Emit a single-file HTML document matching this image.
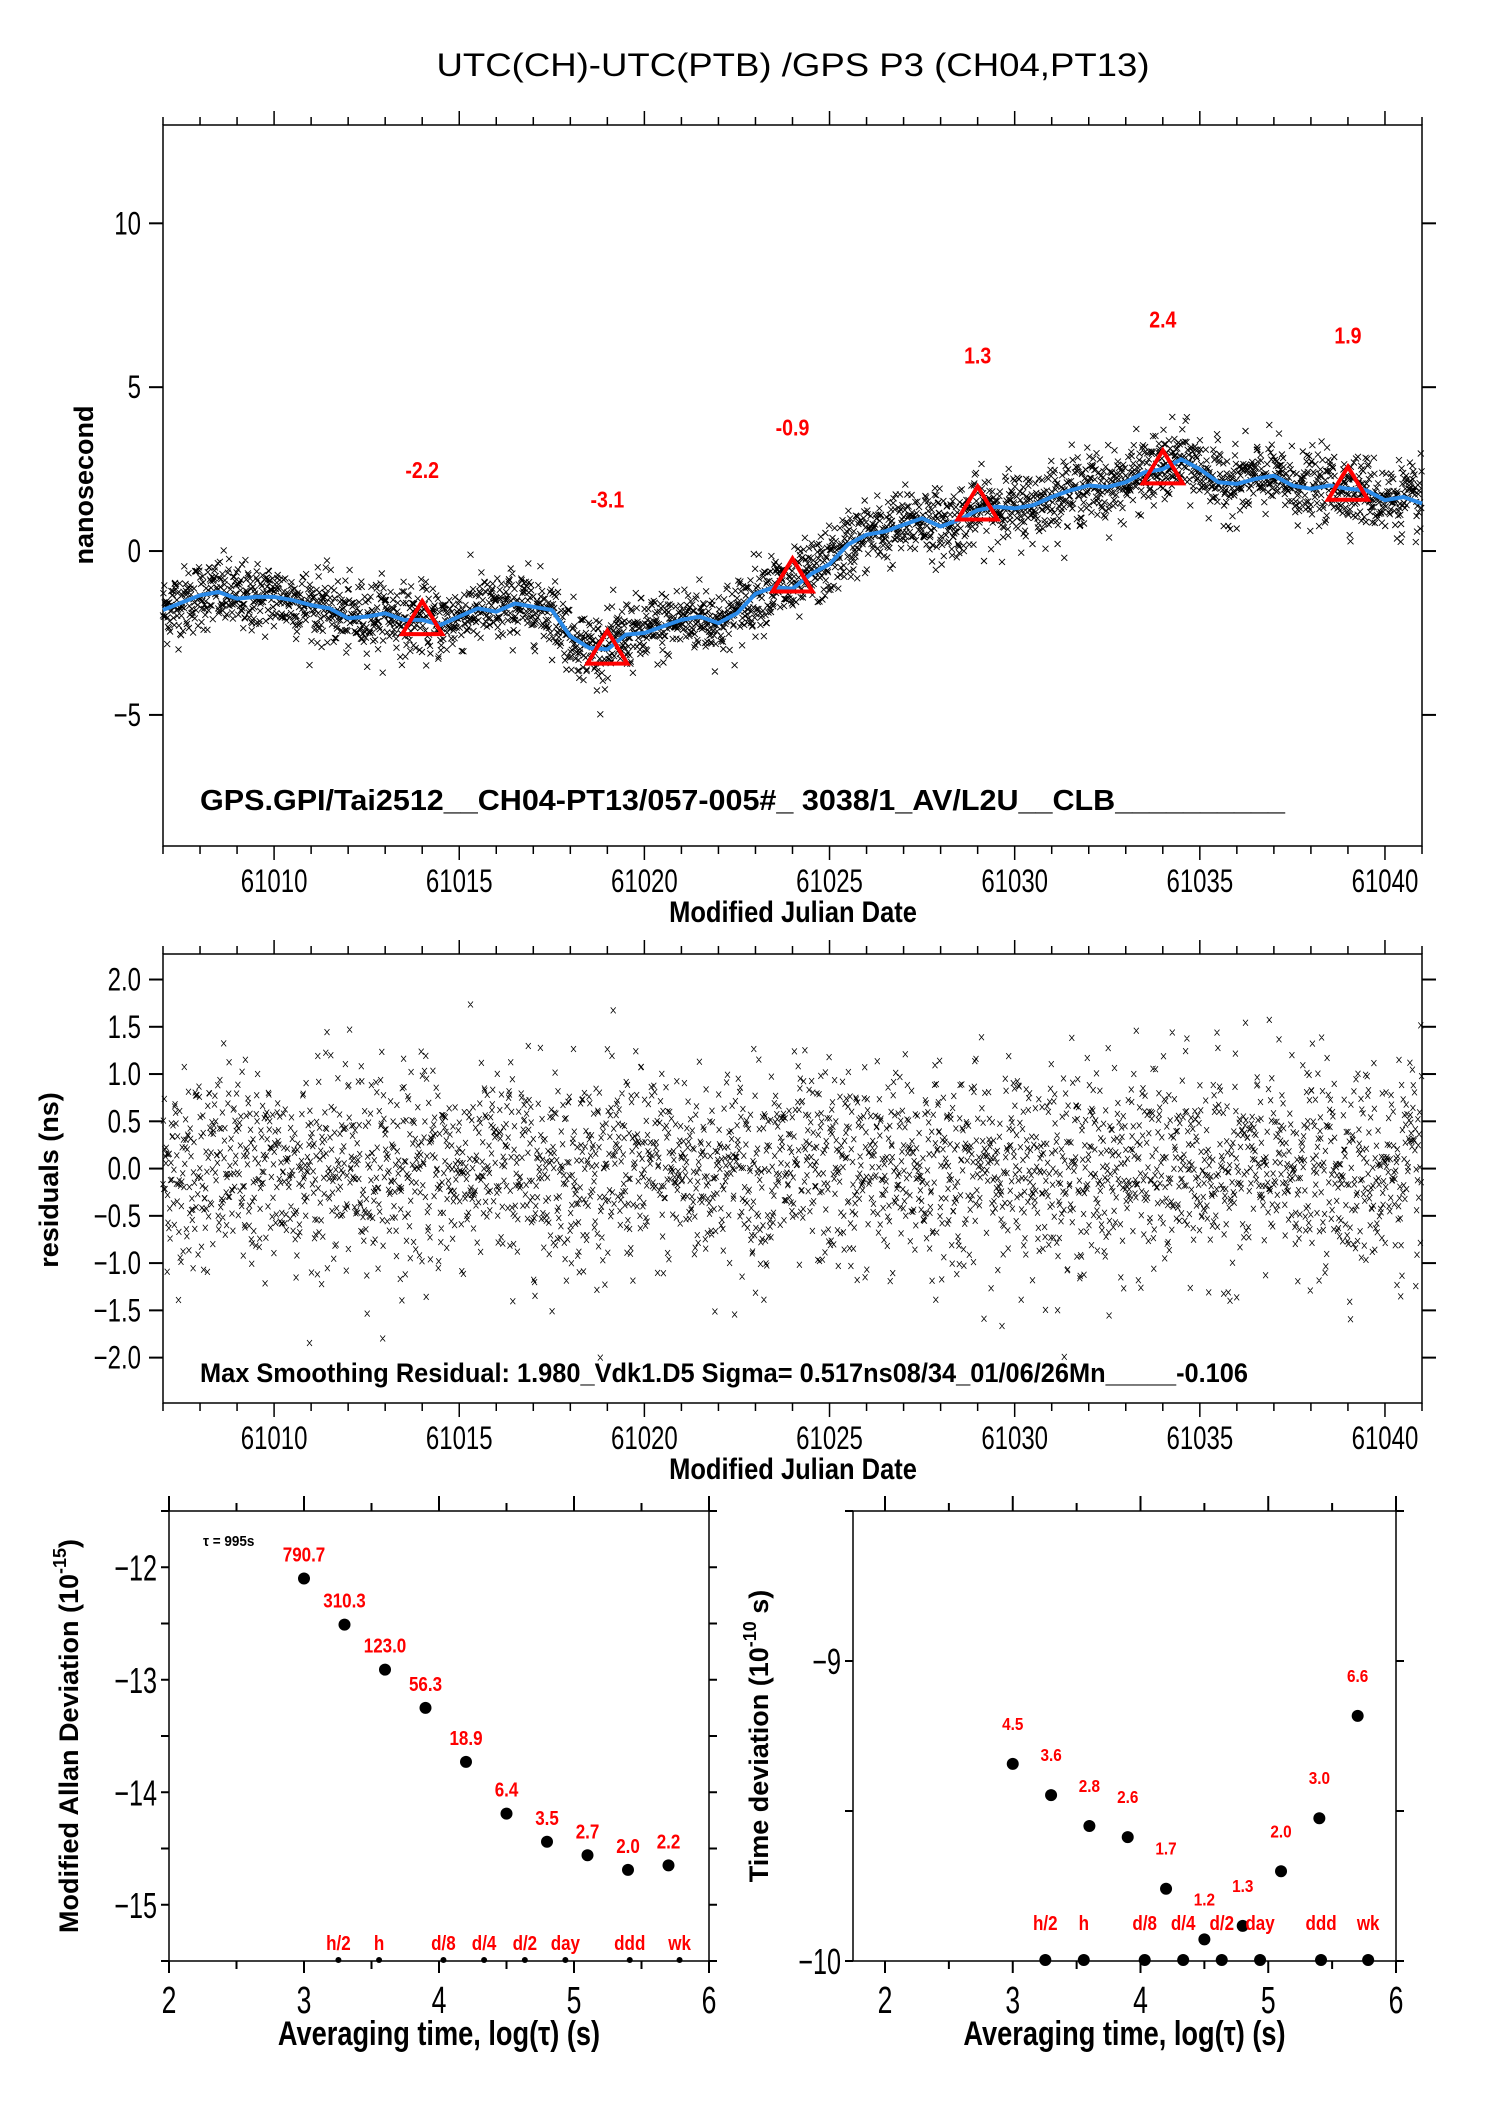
<!DOCTYPE html>
<html><head><meta charset="utf-8"><style>
html,body{margin:0;padding:0;background:#fff}
svg{display:block;font-family:"Liberation Sans",sans-serif}
</style></head><body>
<svg id="c" width="1488" height="2105" viewBox="0 0 1488 2105" xmlns="http://www.w3.org/2000/svg">
<rect width="1488" height="2105" fill="#fff"/>
</svg>
<script>
// ---- data ----
const smoothDays = [61007,61008,61008.5,61009,61009.5,61010,61010.5,61011,61011.5,61012,61012.5,61013,61013.5,61014,61014.5,61015,61015.5,61016,61016.5,61017,61017.5,61018,61018.5,61019,61019.5,61020,61020.5,61021,61021.5,61022,61022.5,61023,61023.5,61024,61024.5,61025,61025.5,61026,61026.5,61027,61027.5,61028,61028.5,61029,61029.5,61030,61030.5,61031,61031.5,61032,61032.5,61033,61033.5,61034,61034.5,61035,61035.5,61036,61036.5,61037,61037.5,61038,61038.5,61039,61039.5,61040,61040.5,61041];
const smoothVals = [-1.8,-1.35,-1.25,-1.45,-1.4,-1.4,-1.5,-1.65,-1.75,-2.05,-2.0,-1.9,-2.1,-2.1,-2.25,-2.0,-1.75,-1.85,-1.6,-1.7,-1.8,-2.6,-2.95,-3.0,-2.55,-2.5,-2.3,-2.1,-2.0,-2.2,-1.9,-1.3,-1.1,-1.15,-0.7,-0.4,0.2,0.5,0.6,0.8,1.0,0.75,0.95,1.25,1.35,1.3,1.4,1.65,1.85,2.0,1.95,2.1,2.4,2.5,2.8,2.5,2.1,2.05,2.2,2.3,2.0,1.9,2.0,1.9,1.85,1.55,1.65,1.45];
const triDays = [61014,61019,61024,61029,61034,61039];
const triVals = [-2.2,-3.1,-0.9,1.3,2.4,1.9];
const triLabels = ["-2.2","-3.1","-0.9","1.3","2.4","1.9"];
const mjdTicks = [61010,61015,61020,61025,61030,61035,61040];
const nsTicks = [10,5,0,-5];
const resTicks = [2.0,1.5,1.0,0.5,0.0,-0.5,-1.0,-1.5,-2.0];
const adevLogTau = [3,3.3,3.6,3.9,4.2,4.5,4.8,5.1,5.4,5.7];
const adevVals = [-12.10,-12.51,-12.91,-13.25,-13.73,-14.19,-14.44,-14.56,-14.69,-14.65];
const adevLabels = ["790.7","310.3","123.0","56.3","18.9","6.4","3.5","2.7","2.0","2.2"];
const tdevVals = [-9.343,-9.447,-9.550,-9.587,-9.759,-9.928,-9.883,-9.701,-9.524,-9.183];
const tdevLabels = ["4.5","3.6","2.8","2.6","1.7","1.2","1.3","2.0","3.0","6.6"];
const markLogTau = [3.255,3.556,4.033,4.334,4.636,4.936,5.413,5.782];
const markNames = ["h/2","h","d/8","d/4","d/2","day","ddd","wk"];
const adevTicks = [-12,-13,-14,-15];
const tdevTicks = [-9,-10];
const logTicks = [2,3,4,5,6];

// ---- helpers ----
const svg = document.getElementById('c');
const NS = 'http://www.w3.org/2000/svg';
function mk(tag, attrs, parent){
  const e = document.createElementNS(NS, tag);
  for (const k in attrs) e.setAttribute(k, attrs[k]);
  (parent||svg).appendChild(e); return e;
}
function txt(x,y,s,size,opt){
  opt = opt||{};
  const a = {x:0,y:0,'font-size':size,'text-anchor':opt.anchor||'middle',fill:opt.fill||'#000'};
  if (opt.bold) a['font-weight']='bold';
  if (opt.len){a.textLength=opt.len;a.lengthAdjust='spacingAndGlyphs';}
  const sx = opt.sx||0.8;
  let tr = 'translate('+x+','+y+')';
  if (opt.rot) tr += ' rotate('+opt.rot+')';
  tr += ' scale('+sx+',1)';
  a.transform = tr;
  const t = mk('text', a, opt.parent); t.textContent = s; return t;
}
function line(x1,y1,x2,y2,w,parent){ return mk('line',{x1,y1,x2,y2,stroke:'#000','stroke-width':w||1.5},parent); }

// deterministic noise texture for the dense scatter cloud
let seed = 12345;
function rnd(){ seed = (seed*1103515245+12345)%2147483648; return seed/2147483648; }
function gauss(){ const u=Math.max(rnd(),1e-9), v=rnd(); return Math.sqrt(-2*Math.log(u))*Math.cos(2*Math.PI*v); }
function smoothAt(d){
  for (let i=0;i<smoothDays.length-1;i++){
    if (d<=smoothDays[i+1]){ const t=(d-smoothDays[i])/(smoothDays[i+1]-smoothDays[i]); return smoothVals[i]+t*(smoothVals[i+1]-smoothVals[i]); }
  }
  return smoothVals[smoothVals.length-1];
}
const ptsDay=[], ptsRes=[];
for (let d=61007.0; d<=61041; d+=0.0113){ ptsDay.push(d); ptsRes.push(Math.max(-2,Math.min(1.8,gauss()*0.53))); }

// ---- axes geometry ----
const X0=163, X1=1422, D0=61007, D1=61041;
const xd = d => X0+(d-D0)/(D1-D0)*(X1-X0);
const T0=125, T1=846, yn = v => T0+(13-v)/(22)*(T1-T0);
const M0=954, M1=1403, yr = v => M0+(2.27-v)/(4.75)*(M1-M0);

// ---- title ----
const title = txt(793,76,'UTC(CH)-UTC(PTB)  /GPS  P3  (CH04,PT13)',32,{sx:1,len:713});



function timeFrame(top,bot,name){
  const g = mk('g',{});
  
  
  mk('rect',{x:X0,y:top,width:X1-X0,height:bot-top,fill:'none',stroke:'#000','stroke-width':1.5},g);
  for (let d=61007; d<=61041; d++){
    const L = (d%5===0)?14:8;
    line(xd(d),top,xd(d),top-L,1.5,g);
    line(xd(d),bot,xd(d),bot+L,1.5,g);
  }
  mjdTicks.forEach(d=>{ txt(xd(d),bot+46,String(d),32,{parent:g,sx:0.75}); });
  const xt = txt(793,bot+76,'Modified Julian Date',30,{bold:true,parent:g,sx:0.85});
  
  
  return g;
}

// ---- top panel ----
const gTop = timeFrame(T0,T1,'offset-panel');
nsTicks.forEach(v=>{
  line(X0,yn(v),X0-14,yn(v),2,gTop); line(X1,yn(v),X1+14,yn(v),2,gTop);
  txt(X0-22,yn(v)+11,String(v).replace('-','\u2212'),32,{anchor:'end',parent:gTop,sx:0.75});
});
const ytTop = txt(93,485,'nanosecond',27,{bold:true,rot:-90,sx:1});



let p='';
ptsDay.forEach((d,i)=>{
  const x=xd(d), y=yn(smoothAt(d)+ptsRes[i]);
  if (y<T0||y>T1) return;
  p+='M'+(x-3).toFixed(1)+' '+(y-3).toFixed(1)+'l6 6M'+(x-3).toFixed(1)+' '+(y+3).toFixed(1)+'l6 -6';
});
const sc = mk('path',{d:p,stroke:'#000','stroke-width':0.9,fill:'none'});


const sp = mk('polyline',{points:smoothDays.map((d,i)=>xd(d).toFixed(1)+','+yn(smoothVals[i]).toFixed(1)).join(' '),fill:'none',stroke:'#2a8ae8','stroke-width':4,'stroke-linejoin':'round'});


triDays.forEach((d,i)=>{
  const x=xd(d), y=yn(triVals[i]);
  const tr = mk('polygon',{points:(x)+','+(y-22)+' '+(x-20)+','+(y+11)+' '+(x+20)+','+(y+11),fill:'none',stroke:'#f00','stroke-width':4});
  
  
  const lb = txt(x,yn(triVals[i]+4.7)+9,triLabels[i],23,{bold:true,fill:'#f00',sx:0.85});
  
  
});
const info1 = txt(200,810,'GPS.GPI/Tai2512__CH04-PT13/057-005#_  3038/1_AV/L2U__CLB__________',29,{bold:true,anchor:'start',sx:1,len:1085});



// ---- residual panel ----
const gMid = timeFrame(M0,M1,'residual-panel');
resTicks.forEach(v=>{
  line(X0,yr(v),X0-14,yr(v),2,gMid); line(X1,yr(v),X1+14,yr(v),2,gMid);
  txt(X0-22,yr(v)+11,v.toFixed(1).replace('-','\u2212'),32,{anchor:'end',parent:gMid,sx:0.75});
});
const ytMid = txt(58,1180,'residuals (ns)',27,{bold:true,rot:-90,sx:1});


p='';
ptsDay.forEach((d,i)=>{
  const x=xd(d), y=yr(ptsRes[i]);
  p+='M'+(x-2.5).toFixed(1)+' '+(y-3).toFixed(1)+'l5 6M'+(x-2.5).toFixed(1)+' '+(y+3).toFixed(1)+'l5 -6';
});
const rs = mk('path',{d:p,stroke:'#000','stroke-width':0.8,fill:'none'});


const info2 = txt(200,1382,'Max Smoothing Residual: 1.980_Vdk1.D5  Sigma= 0.517ns08/34_01/06/26Mn_____-0.106',27,{bold:true,anchor:'start',sx:1,len:1048});



// ---- bottom panels ----
const B0=1511, B1=1961;
function statPanel(opt){
  const g = mk('g',{});
  
  
  const xl = v => opt.xa+(v-2)*opt.xs;
  const yv = v => B1-(v-opt.ymin)/(opt.ymax-opt.ymin)*(B1-B0);
  mk('line',{x1:opt.L-7,y1:B0,x2:opt.R+7,y2:B0,stroke:'#000','stroke-width':1.5},g);
  mk('line',{x1:opt.L-7,y1:B1,x2:opt.R+7,y2:B1,stroke:'#000','stroke-width':1.5},g);
  mk('line',{x1:opt.L,y1:B0,x2:opt.L,y2:B1,stroke:'#000','stroke-width':1.5},g);
  mk('line',{x1:opt.R,y1:B0,x2:opt.R,y2:B1,stroke:'#000','stroke-width':1.5},g);
  for (let v=2; v<=6; v+=0.5){ if (xl(v)<opt.L-1) continue; line(xl(v),B0,xl(v),B0-(v%1?8:15),2,g); line(xl(v),B1,xl(v),B1+(v%1?8:12),2,g); }
  for (let v=Math.ceil(opt.ymin*2)/2; v<=opt.ymax+1e-9; v+=0.5){ line(opt.L,yv(v),opt.L-8,yv(v),2,g); line(opt.R,yv(v),opt.R+8,yv(v),2,g); }
  logTicks.forEach(v=>txt(xl(v),B1+52,String(v),38,{parent:g,sx:0.7}));
  opt.ticks.forEach(v=>txt(opt.L-12,yv(v)+13,String(v).replace('-','\u2212'),36,{anchor:'end',parent:g,sx:0.7}));
  const xt = txt((opt.L+opt.R)/2,B1+84,'Averaging time, log(\u03c4) (s)',34,{bold:true,parent:g,sx:0.8});
  
  
  const yt = txt(opt.ytx,1736,'',27,{bold:true,rot:-90,sx:1,parent:g});
  yt.innerHTML = opt.ytitle;
  
  
  adevLogTau.forEach((lt,i)=>{
    const c = mk('circle',{cx:xl(lt),cy:yv(opt.vals[i]),r:6,fill:'#000'},g);
    
    
    const t = txt(xl(lt),yv(opt.vals[i])-opt.lo,opt.labels[i],opt.ls,{bold:true,fill:'#f00',parent:g,sx:0.85});
    
    
  });
  markLogTau.forEach((lt,i)=>{
    mk('circle',{cx:xl(lt),cy:B1-1,r:opt.mr,fill:'#000'},g);
    const t = txt(xl(lt),opt.my,markNames[i],20,{bold:true,fill:'#f00',parent:g,sx:0.85});
    
    
  });
  return {g,xl,yv};
}
const A = statPanel({name:'allan-deviation-panel',L:169,R:709,xa:169,xs:135,ymin:-15.5,ymax:-11.5,ticks:adevTicks,vals:adevVals,labels:adevLabels,lo:17,ls:20,mr:3,my:1950,ytx:78,
  ytitle:'Modified Allan Deviation (10<tspan dy="-12" font-size="18">-15</tspan><tspan dy="12">)</tspan>'});
const tau = txt(203,1546,'\u03c4 = 995s',15,{bold:true,anchor:'start',parent:A.g,sx:0.9});


statPanel({name:'time-deviation-panel',L:853,R:1396,xa:885,xs:127.75,ymin:-10,ymax:-8.5,ticks:tdevTicks,vals:tdevVals,labels:tdevLabels,lo:34,ls:18,mr:6,my:1930,ytx:768,
  ytitle:'Time deviation (10<tspan dy="-12" font-size="18">-10</tspan><tspan dy="12"> s)</tspan>'});
</script>
</body></html>
